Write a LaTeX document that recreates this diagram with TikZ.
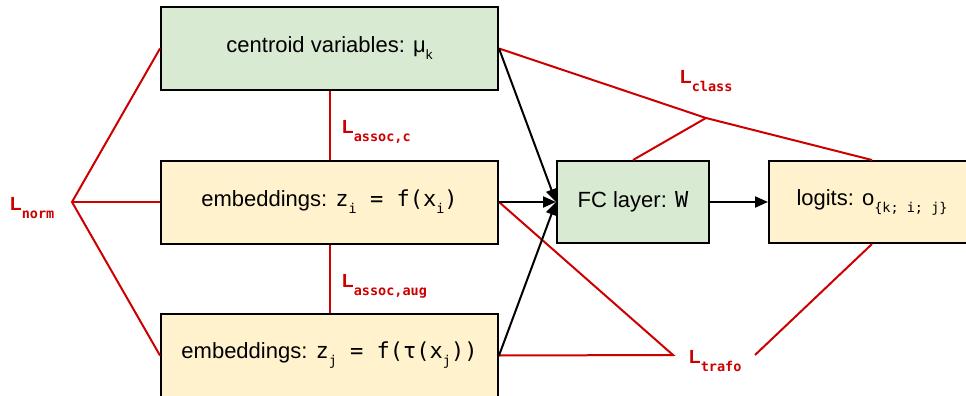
\documentclass[tikz,border=0pt]{standalone}
\usepackage{fontspec}
\setmainfont{Liberation Sans}
\newfontfamily\monof{DejaVu Sans Mono}
\usetikzlibrary{arrows.meta}
\definecolor{boxgreen}{HTML}{D9EAD3}
\definecolor{boxyellow}{HTML}{FFF2CC}
\definecolor{lossred}{HTML}{CC0000}
\newcommand\mainsz{\fontsize{22}{26}\selectfont}
\newcommand\sbs[1]{\raisebox{-7pt}{\fontsize{13.5}{15}\selectfont #1}}
\newcommand\msbs[1]{\raisebox{-7pt}{\fontsize{13.5}{15}\selectfont\monof #1}}
\newcommand\lossL[1]{{\fontsize{19}{22}\selectfont\bfseries L}\raisebox{-8pt}{\fontsize{13.5}{15}\selectfont\monof\bfseries #1}}
\tikzset{
  box/.style={draw=black, line width=2pt, inner sep=0pt, font=\mainsz, align=center},
  bigbox/.style={box, minimum width=337pt, minimum height=83pt},
  greenbox/.style={fill=boxgreen},
  yellowbox/.style={fill=boxyellow},
  loss/.style={draw=lossred, line width=2pt},
  losslabel/.style={text=lossred, anchor=base west, inner sep=0pt},
  arr/.style={draw=black, line width=2pt, -{Triangle[length=13pt,width=11pt]}}
}
\begin{document}
\begin{tikzpicture}[x=1pt,y=-1pt]
\useasboundingbox (0,0) rectangle (966,396);
\node[bigbox,greenbox] (cent) at (329.5,48.5) {centroid variables: μ\sbs{k}};
\node[bigbox,yellowbox] (embi) at (329.5,202) {embeddings: {\monof z\msbs{i} = f(x\msbs{i})}};
\node[bigbox,yellowbox] (embj) at (329.5,355.5) {embeddings: {\monof z\msbs{j} = f(τ(x\msbs{j}))}};
\node[box,greenbox,minimum width=152pt,minimum height=82pt] (fc) at (633,202) {FC layer: {\monof W}};
\node[box,yellowbox,minimum width=206pt,minimum height=82pt] (logits) at (872,202) {logits: o\msbs{\{k; i; j\}}};
% junctions
\coordinate (jn) at (72,202);
\coordinate (jc) at (706,118);
\coordinate (jt) at (673,355);
\coordinate (jt2) at (755,355);
% loss lines
\draw[loss] (cent.west) -- (jn) -- (embj.west);
\draw[loss] (jn) -- (embi.west);
\draw[loss] (cent.south) -- (embi.north);
\draw[loss] (embi.south) -- (embj.north);
\draw[loss] (cent.east) -- (jc) -- (logits.north);
\draw[loss] (fc.north) -- (jc);
\draw[loss] (embi.east) -- (jt) -- (embj.east);
\draw[loss] (logits.south) -- (jt2);
% arrows
\draw[arr] (cent.east) -- (fc.west);
\draw[arr] (embi.east) -- (fc.west);
\draw[arr] (embj.east) -- (fc.west);
\draw[arr] (fc.east) -- (logits.west);
% labels
\node[losslabel] (lnorm) at (10,210) {\lossL{norm}};
\node[losslabel] (lassocc) at (342,133) {\lossL{assoc,c}};
\node[losslabel] (lassocaug) at (342,287) {\lossL{assoc,aug}};
\node[losslabel] (lclass) at (680,84) {\lossL{class}};
\node[losslabel] (ltrafo) at (689,363) {\lossL{trafo}};
\end{tikzpicture}
\end{document}
